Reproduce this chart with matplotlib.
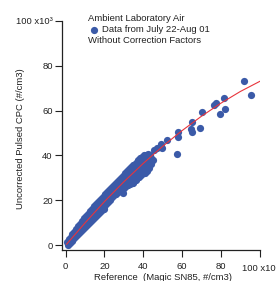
import matplotlib
matplotlib.use("Agg")
import matplotlib.pyplot as plt
from matplotlib.lines import Line2D

plt.rcParams['font.family'] = ['Liberation Sans', 'DejaVu Sans']

BLUE = '#3b5aa8'
RED = '#e8343c'

# dense part of the comparison (reference x, pulsed CPC y), units of 1e3 #/cm3
# upper edge of the band
upper_x = [0.5, 1.5, 2.5, 3.5, 4.5, 5.5, 6.5, 7.5, 8.5, 9.5, 10.5, 11.5, 12.5, 13.5, 14.5,
           15.5, 16.5, 17.5, 18.5, 19.5, 20.5, 21.5, 22.5, 23.5, 24.5, 25.5, 26.5, 27.5,
           28.5, 29.5, 30.5, 31.5, 32.5, 33.5, 34.5, 35.5, 36.5, 37.5, 38.5, 39.5, 40.5,
           41.5, 42.5, 43.5]
upper_y = [1.5, 2.6, 3.6, 5.0, 6.1, 7.1, 8.6, 9.6, 10.6, 12.0, 13.0, 14.0, 15.3, 16.3, 17.3,
           18.3, 19.2, 20.2, 21.1, 22.0, 22.9, 23.8, 24.7, 25.6, 26.5, 27.4, 28.3, 29.2,
           30.0, 30.9, 32.1, 33.0, 33.8, 34.7, 35.6, 36.4, 37.2, 38.0, 38.8, 39.5, 40.0,
           40.4, 40.6, 40.4]
# middle of the band
mid_x = [1, 2, 3, 4, 5, 6, 7, 8, 9, 10, 11, 12, 13, 14, 15, 16, 17, 18, 19, 20, 21, 22,
         23, 24, 25, 26, 27, 28, 29, 30, 31, 32, 33, 34, 35, 36, 37, 38, 39, 40, 41, 42,
         43, 44]
mid_y = [1.2, 2.2, 3.2, 4.2, 5.2, 6.2, 7.2, 8.2, 9.3, 10.2, 11.2, 12.1, 13.1, 14.0, 15.0,
         15.9, 16.9, 17.8, 18.7, 19.6, 20.5, 21.4, 22.3, 23.2, 24.1, 25.0, 25.8, 26.7,
         27.6, 28.4, 29.3, 30.1, 30.9, 31.8, 32.6, 33.4, 34.2, 35.0, 35.8, 36.6, 37.4,
         38.0, 38.5, 39.0]
mid_low_x = [31, 32, 33, 34, 35, 36, 37, 38, 39, 40, 41, 42, 43, 44]
mid_low_y = [27.3, 28.0, 28.7, 29.4, 30.2, 31.0, 31.8, 32.6, 33.4, 34.2, 35.0, 35.8, 36.6,
             37.4]
# lower edge of the band
lower_x = [1, 2, 3, 4, 5, 6, 7, 8, 9, 10, 11, 12, 13, 14, 15, 16, 17, 18, 19, 20, 21, 22,
           23, 24, 25, 26, 27, 28, 29, 30, 31, 32, 33, 34, 35, 36, 37, 38, 39, 40, 41, 42,
           43, 44, 45, 34.5, 29.5, 19.6]
lower_y = [0.2, 1.0, 1.9, 2.8, 3.8, 4.6, 5.5, 6.4, 7.3, 8.2, 9.1, 10.0, 10.9, 11.8, 12.8,
           13.6, 14.5, 15.4, 16.3, 17.0, 18.2, 19.2, 20.3, 21.4, 22.3, 23.0, 23.6, 24.3,
           25.0, 25.5, 26.2, 26.8, 27.3, 27.9, 28.5, 29.1, 29.8, 30.6, 31.4, 32.0, 32.4,
           33.0, 34.5, 36.0, 38.0, 27.6, 23.4, 16.3]

# sparse high-concentration points
sparse_x = [45.5, 46.9, 49.5, 49.1, 52.4, 57.5, 58.0, 58.0, 65.1, 64.4, 69.4, 65.3, 70.4,
            79.7, 82.3, 76.3, 77.5, 81.8, 92.1, 95.7]
sparse_y = [42.4, 43.2, 43.3, 45.0, 47.0, 40.8, 48.1, 50.5, 50.3, 51.7, 52.2, 55.1, 59.2,
            58.4, 60.6, 62.5, 63.5, 65.7, 73.0, 66.8]

# fitted curve
fit_x = [0.5, 10, 20, 30, 40, 50, 60, 70, 80, 90, 100]
fit_y = [0.5, 10.0, 19.5, 28.3, 36.5, 44.1, 51.1, 57.5, 63.3, 68.5, 73.0]

ticks = [0, 20, 40, 60, 80, 100]
xtick_labels = ['0', '20', '40', '60', '80', '']
ytick_labels = ['0', '20', '40', '60', '80', '100 x10\u00b3']

fig = plt.figure(figsize=(2.76, 2.81), dpi=100)
ax = fig.add_axes([61.7 / 276, 31 / 281, 198 / 276, 229.2 / 281])

ms = 5.2
for xs, ys in [(lower_x, lower_y), (mid_low_x, mid_low_y), (mid_x, mid_y),
               (upper_x, upper_y), (sparse_x, sparse_y)]:
    ax.plot(xs, ys, 'o', color=BLUE, markersize=ms, markeredgewidth=0)
ax.plot(fit_x, fit_y, '-', color=RED, linewidth=0.8)

ax.set_xlim(-2.06, 100)
ax.set_ylim(-2.1, 100)
ax.spines['top'].set_visible(False)
ax.spines['right'].set_visible(False)
for s in ['left', 'bottom']:
    ax.spines[s].set_linewidth(0.9)
    ax.spines[s].set_color('#222222')

ax.set_xticks(ticks)
ax.set_xticklabels(xtick_labels)
ax.set_yticks(ticks)
ax.set_yticklabels(ytick_labels)
ax.tick_params(direction='out', length=5, width=0.8, color='#222222',
               labelsize=6.8, labelcolor='#222222')
ax.tick_params(axis='x', pad=3.5)
ax.tick_params(axis='y', pad=1.5)

fig.text(242.3 / 276, 1 - 268.3 / 281, '100 x10\u00b3', ha='left', va='center',
         fontsize=6.8, color='#222222')

fig.text(21 / 276, 1 - 139 / 281, 'Uncorrected Pulsed CPC (#/cm3)', rotation=90,
         ha='center', va='center', fontsize=6.8, color='#222222')
fig.text(163 / 276, 1 - 277.7 / 281, 'Reference  (Magic SN85, #/cm3)',
         ha='center', va='center', fontsize=6.8, color='#222222')

# legend block
fig.text(88.3 / 276, 1 - 18.3 / 281, 'Ambient Laboratory Air', ha='left', va='center',
         fontsize=6.8, color='#222222')
fig.add_artist(Line2D([94 / 276], [1 - 30 / 281], marker='o', color=BLUE,
                      markersize=ms, markeredgewidth=0, linestyle='none',
                      transform=fig.transFigure))
fig.text(101.7 / 276, 1 - 30 / 281, 'Data from July 22-Aug 01', ha='left', va='center',
         fontsize=6.8, color='#222222')
fig.text(88.3 / 276, 1 - 40.7 / 281, 'Without Correction Factors', ha='left', va='center',
         fontsize=6.8, color='#222222')

fig.savefig('out.png', dpi=100)
